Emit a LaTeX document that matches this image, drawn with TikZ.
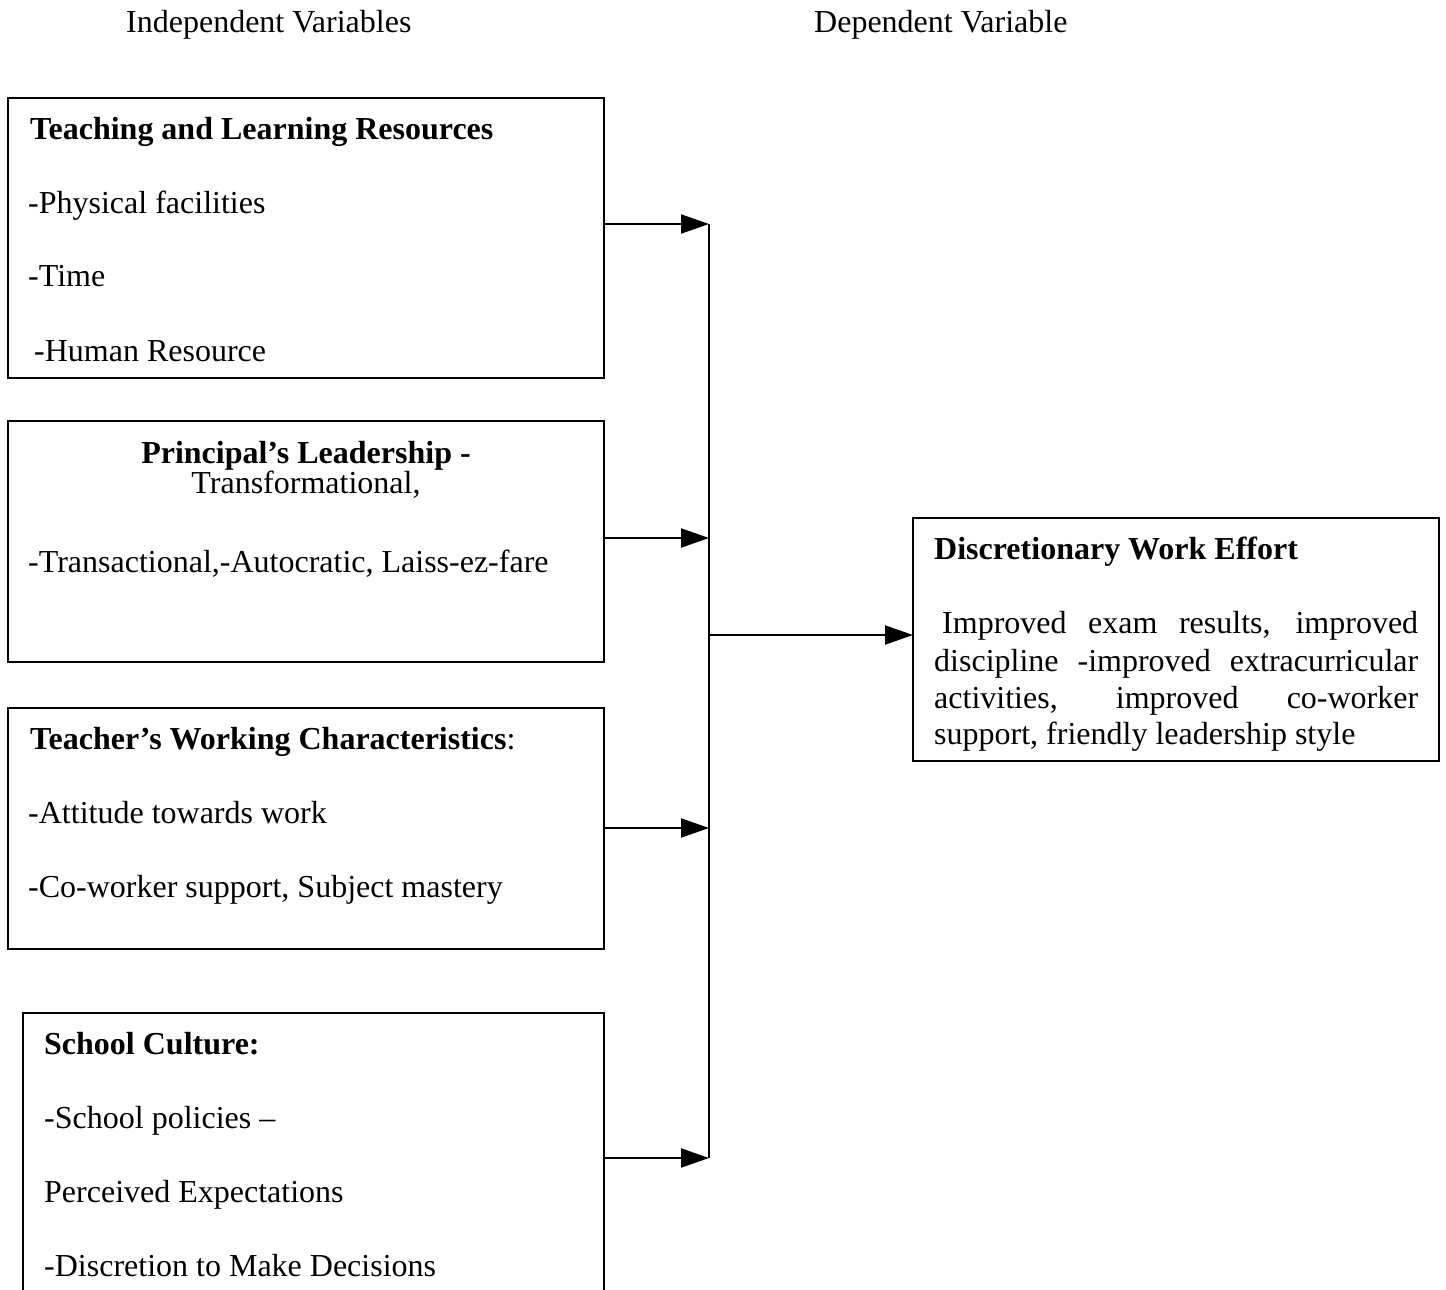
\documentclass[tikz,border=0pt]{standalone}
\usepackage{fontspec}
\setmainfont{Liberation Serif}
\usetikzlibrary{arrows.meta}
\begin{document}
\begin{tikzpicture}[x=1pt,y=-1pt,
  box/.style={draw=black,line width=2pt,inner sep=0pt,outer sep=0pt,anchor=north west},
  txt/.style={anchor=base west,inner sep=0pt,font=\fontsize{32}{37}\selectfont},
  hd/.style={txt,font=\fontsize{32}{37}\selectfont\bfseries},
  link/.style={line width=2pt,-{Triangle[length=28pt,width=19pt]}},
  trunk/.style={line width=2pt}]
\clip (0,0) rectangle (1446,1290);
\fill[white] (0,0) rectangle (1446,1290);
% headers
\node[txt] (hIV) at (126,33) {Independent Variables};
\node[txt] (hDV) at (814,33) {Dependent Variable};
% box 1
\node[box,minimum width=596pt,minimum height=280pt] (b1) at (8,98) {};
\node[hd] (b1t) at (30,139) {Teaching and Learning Resources};
\node[txt] (b1a) at (28,213) {-Physical facilities};
\node[txt] (b1b) at (28,286) {-Time};
\node[txt] (b1c) at (34,361) {-Human Resource};
% box 2
\node[box,minimum width=596pt,minimum height=241pt] (b2) at (8,421) {};
\node[hd,anchor=base] (b2t) at (306,463) {Principal’s Leadership -};
\node[txt,anchor=base] (b2a) at (306,493) {Transformational,};
\node[txt] (b2b) at (28,572) {-Transactional,-Autocratic, Laiss-ez-fare};
% box 3
\node[box,minimum width=596pt,minimum height=241pt] (b3) at (8,708) {};
\node[txt] (b3t) at (30,749) {\textbf{Teacher’s Working Characteristics}:};
\node[txt] (b3a) at (28,823) {-Attitude towards work};
\node[txt] (b3b) at (28,897) {-Co-worker support, Subject mastery};
% box 4 (bottom edge outside the picture)
\node[box,minimum width=581pt,minimum height=320pt] (b4) at (23,1013) {};
\node[hd] (b4t) at (44,1054) {School Culture:};
\node[txt] (b4a) at (44,1128) {-School policies –};
\node[txt] (b4b) at (44,1202) {Perceived Expectations};
\node[txt] (b4c) at (44,1276) {-Discretion to Make Decisions};
% outcome box
\node[box,minimum width=526pt,minimum height=243pt] (out) at (913,518) {};
\node[hd] (outt) at (934,559) {Discretionary Work Effort};
\node[txt] (o1) at (942,633) {\makebox[476pt][s]{Improved exam results, improved}};
\node[txt] (o2) at (934,671) {\makebox[484pt][s]{discipline -improved extracurricular}};
\node[txt] (o3) at (934,708) {\makebox[484pt][s]{activities, improved co-worker}};
\node[txt] (o4) at (934,744) {support, friendly leadership style};
% connectors
\coordinate (j1) at (709,224);
\coordinate (j2) at (709,538);
\coordinate (jm) at (709,635);
\coordinate (j3) at (709,828);
\coordinate (j4) at (709,1158);
\draw[trunk] (j1) -- (j4);
\draw[link] (b1.east |- j1) -- (j1);
\draw[link] (b2.east |- j2) -- (j2);
\draw[link] (b3.east |- j3) -- (j3);
\draw[link] (b4.east |- j4) -- (j4);
\draw[link] (jm) -- (out.west |- jm);
\end{tikzpicture}
\end{document}
